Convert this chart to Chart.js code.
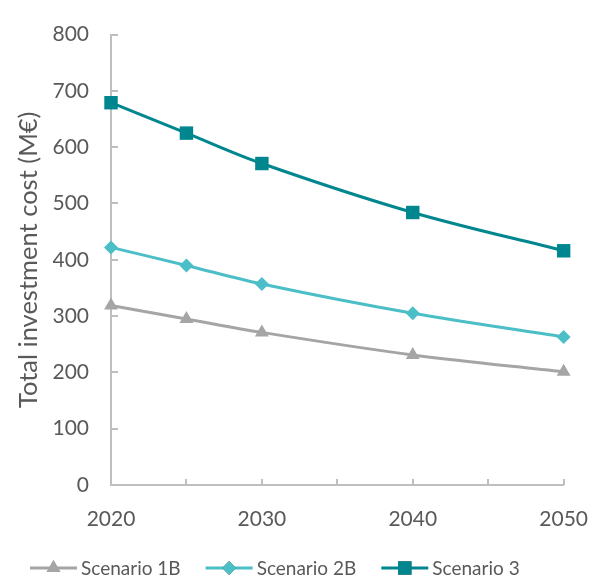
<!DOCTYPE html>
<html lang="en">
<head>
  <meta charset="UTF-8">
  <title>Total investment cost</title>
  <script src="https://cdn.jsdelivr.net/npm/chart.js"></script>
  <style>
    html, body { margin: 0; padding: 0; background: #fff; }
    .chart-box { width: 610px; height: 579px; }
  </style>
</head>
<body>
<div class="chart-box">
  <canvas id="costChart"></canvas>
</div>

<script>
  // data
  const years = [2020, 2025, 2030, 2040, 2050];
  const scenario1B = [319, 295, 271, 231, 201];
  const scenario2B = [422, 390, 357, 305, 263];
  const scenario3 = [679, 625, 571, 484, 416];
  const yTicks = [0, 100, 200, 300, 400, 500, 600, 700, 800];
  const xTicks = [2020, 2030, 2040, 2050];

  const textColor = '#595959';
  const axisColor = '#BFBFBF';
  const fontFamily = 'Lato, "Open Sans", sans-serif';

  function pts(values) {
    return years.map((y, i) => ({ x: y, y: values[i] }));
  }

  // ticks drawn on the inside of the axes, like the original
  const innerTicks = {
    id: 'innerTicks',
    beforeDatasetsDraw(chart) {
      const ctx = chart.ctx;
      const x = chart.scales.x, y = chart.scales.y;
      const left = chart.chartArea.left, bottom = chart.chartArea.bottom;
      ctx.save();
      ctx.strokeStyle = axisColor;
      ctx.lineWidth = 2;
      ctx.beginPath();
      yTicks.forEach(v => {
        if (v === 0) return;
        const py = Math.round(y.getPixelForValue(v));
        ctx.moveTo(left, py);
        ctx.lineTo(left + 7, py);
      });
      for (let v = x.min + 5; v <= x.max; v += 5) {
        const px = Math.round(x.getPixelForValue(v));
        ctx.moveTo(px, bottom);
        ctx.lineTo(px, bottom - 6);
      }
      ctx.stroke();
      ctx.restore();
    }
  };

  // legend with a line + marker sample, drawn at the bottom
  const lineLegend = {
    id: 'lineLegend',
    afterDraw(chart) {
      const ctx = chart.ctx;
      const cy = 568;
      let cx = 30;
      ctx.save();
      ctx.font = '19px ' + fontFamily;
      ctx.textBaseline = 'middle';
      chart.data.datasets.forEach(ds => {
        ctx.strokeStyle = ds.borderColor;
        ctx.lineWidth = 3;
        ctx.beginPath();
        ctx.moveTo(cx, cy);
        ctx.lineTo(cx + 47, cy);
        ctx.stroke();
        Chart.helpers.drawPoint(ctx, {
          pointStyle: ds.pointStyle,
          radius: ds.pointRadius,
          borderWidth: 0
        }, cx + 23.5, cy);
        ctx.fillStyle = ds.borderColor;
        ctx.fill();
        ctx.fillStyle = textColor;
        ctx.fillText(ds.label, cx + 51, cy + 1);
        cx += 51 + ctx.measureText(ds.label).width + 25;
      });
      ctx.restore();
    }
  };

  function series(label, values, color, style, radius) {
    return {
      label: label,
      data: pts(values),
      borderColor: color,
      backgroundColor: color,
      borderWidth: 3,
      pointStyle: style,
      pointRadius: radius,
      pointHoverRadius: radius,
      pointBorderWidth: 0,
      tension: 0.35,
      clip: false
    };
  }

  new Chart(document.getElementById('costChart'), {
    type: 'line',
    data: {
      datasets: [
        series('Scenario 1B', scenario1B, '#A5A5A5', 'triangle', 8),
        series('Scenario 2B', scenario2B, '#4BBEC7', 'rectRot', 7),
        series('Scenario 3', scenario3, '#00868E', 'rect', 9.5)
      ]
    },
    options: {
      responsive: true,
      maintainAspectRatio: false,
      animation: false,
      layout: { padding: { top: 24, right: 42, left: 0, bottom: 0 } },
      plugins: {
        legend: { display: false },
        tooltip: { enabled: false }
      },
      scales: {
        x: {
          type: 'linear',
          min: 2020,
          max: 2050,
          afterFit: s => { s.height = 94; },
          afterBuildTicks: s => { s.ticks = xTicks.map(v => ({ value: v })); },
          grid: { drawOnChartArea: false, drawTicks: false },
          border: { color: axisColor, width: 2 },
          ticks: {
            padding: 22,
            color: textColor,
            font: { family: fontFamily, size: 21 },
            callback: v => String(v)
          }
        },
        y: {
          min: 0,
          max: 800,
          afterFit: s => { s.width = 111; },
          afterBuildTicks: s => { s.ticks = yTicks.map(v => ({ value: v })); },
          grid: { drawOnChartArea: false, drawTicks: false },
          border: { color: axisColor, width: 2 },
          ticks: {
            padding: 22,
            color: textColor,
            font: { family: fontFamily, size: 21 }
          },
          title: {
            display: true,
            text: 'Total investment cost (M€)',
            color: textColor,
            font: { family: fontFamily, size: 25.5 },
            padding: { top: 13, bottom: 0 }
          }
        }
      }
    },
    plugins: [innerTicks, lineLegend]
  });
</script>
</body>
</html>
